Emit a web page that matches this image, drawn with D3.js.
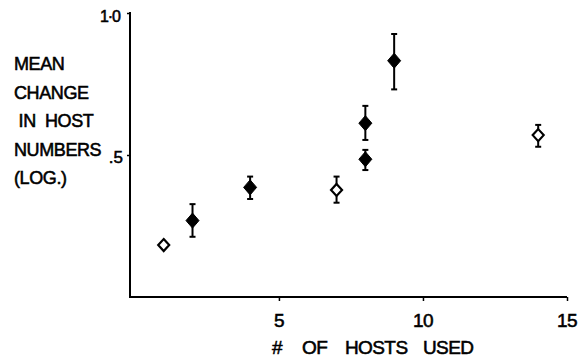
<!DOCTYPE html>
<html>
<head>
<meta charset="utf-8">
<script src="https://cdn.jsdelivr.net/npm/d3@7"></script>
<style>
  html, body { margin: 0; padding: 0; background: #fff; }
  svg { display: block; }
  text { font-family: "Liberation Sans", Arial, sans-serif; fill: #000; }
</style>
</head>
<body>
<svg id="chart" width="582" height="364"></svg>
<script>
// Number of hosts used vs. mean change in host numbers (log scale)
const hosts    = [1, 2, 4, 7, 8, 8, 9, 14];
const meanLog  = [0.183, 0.269, 0.386, 0.377, 0.612, 0.485, 0.832, 0.570];
const upper    = [null, 0.327, 0.424, 0.424, 0.673, 0.518, 0.926, 0.606];
const lower    = [null, 0.212, 0.345, 0.332, 0.553, 0.447, 0.731, 0.529];
const filled   = [false, true, true, false, true, true, true, false];

const xTicks = [5, 10, 15];
const xTickLabels = ["5", "10", "15"];
const yTicks = [0.5, 1.0];
const yTickLabels = [".5", "1·0"];
const yTitleLines = ["MEAN", "CHANGE", " IN  HOST", "NUMBERS", "(LOG.)"];
const xTitleWords = ["#", "OF", "HOSTS", "USED"];

const svg = d3.select("#chart");
const x = d3.scaleLinear().domain([-0.17, 15]).range([130, 567]);
const y = d3.scaleLinear().domain([0, 1.0]).range([297, 13]);

const ink = "#000";
const weight = 0.55;

// axes
const xAxis = svg.append("g")
  .attr("transform", `translate(0,${y(0)})`)
  .call(d3.axisBottom(x).tickValues(xTicks).tickSize(4).tickFormat(""));
const yAxis = svg.append("g")
  .attr("transform", `translate(${x.range()[0]},0)`)
  .call(d3.axisLeft(y).tickValues(yTicks).tickSize(3).tickFormat(""));
[xAxis, yAxis].forEach(g => {
  g.select(".domain").attr("stroke", ink).attr("stroke-width", 2);
  g.selectAll(".tick line").attr("stroke", ink).attr("stroke-width", 1.5);
});
xAxis.select(".domain").attr("d", `M${x.range()[0]},0H${x.range()[1]}`);
yAxis.select(".domain").attr("d", `M0,${y(0) + 1}V${y(1.0) - 1}`);

// x tick labels
svg.append("g").selectAll("text").data(xTicks).join("text")
  .attr("x", d => x(d))
  .attr("y", 327)
  .attr("text-anchor", "middle")
  .attr("font-size", 19)
  .attr("letter-spacing", -0.5)
  .style("stroke", ink).style("stroke-width", weight)
  .text((d, i) => xTickLabels[i]);

// y tick labels
svg.append("text")
  .attr("x", 123).attr("y", y(0.5) + 8)
  .attr("text-anchor", "end")
  .attr("font-size", 17)
  .style("stroke", ink).style("stroke-width", weight)
  .text(yTickLabels[0]);
svg.append("text")
  .attr("x", 120).attr("y", y(1.0) + 9)
  .attr("text-anchor", "end")
  .attr("font-size", 16)
  .attr("letter-spacing", -1)
  .style("stroke", ink).style("stroke-width", weight)
  .text(yTickLabels[1]);

// y title
svg.append("g").selectAll("text").data(yTitleLines).join("text")
  .attr("x", 14)
  .attr("y", (d, i) => 70 + i * 28.5)
  .attr("font-size", 18)
  .attr("letter-spacing", -0.4)
  .style("white-space", "pre")
  .style("stroke", ink).style("stroke-width", weight)
  .text(d => d);

// x title, words set with wide gaps
const wordX = [272, 302, 345, 423];
svg.append("g").selectAll("text").data(xTitleWords).join("text")
  .attr("x", (d, i) => wordX[i]).attr("y", 354)
  .attr("font-size", 19)
  .attr("letter-spacing", -0.6)
  .style("stroke", ink).style("stroke-width", weight)
  .text(d => d);

// error bars
const pts = hosts.map((h, i) => ({ h, m: meanLog[i], hi: upper[i], lo: lower[i], f: filled[i] }));
const bars = svg.append("g").selectAll("g").data(pts.filter(p => p.hi !== null)).join("g");
bars.append("line")
  .attr("x1", d => x(d.h)).attr("x2", d => x(d.h))
  .attr("y1", d => y(d.hi)).attr("y2", d => y(d.lo))
  .attr("stroke", ink).attr("stroke-width", 2);
["hi", "lo"].forEach(k => {
  bars.append("line")
    .attr("x1", d => x(d.h) - 3).attr("x2", d => x(d.h) + 3)
    .attr("y1", d => y(d[k])).attr("y2", d => y(d[k]))
    .attr("stroke", ink).attr("stroke-width", 2);
});

// diamond markers
const diamond = (w, h) => `M0,${-h}L${w},0L0,${h}L${-w},0Z`;
svg.append("g").selectAll("path").data(pts).join("path")
  .attr("transform", d => `translate(${x(d.h)},${y(d.m)})`)
  .attr("d", d => d.f ? diamond(6.5, 7.5) : diamond(5.5, 6))
  .attr("fill", d => d.f ? ink : "#fff")
  .attr("stroke", ink)
  .attr("stroke-width", d => d.f ? 1 : 2.2)
  .attr("stroke-linejoin", "miter");
</script>
</body>
</html>
